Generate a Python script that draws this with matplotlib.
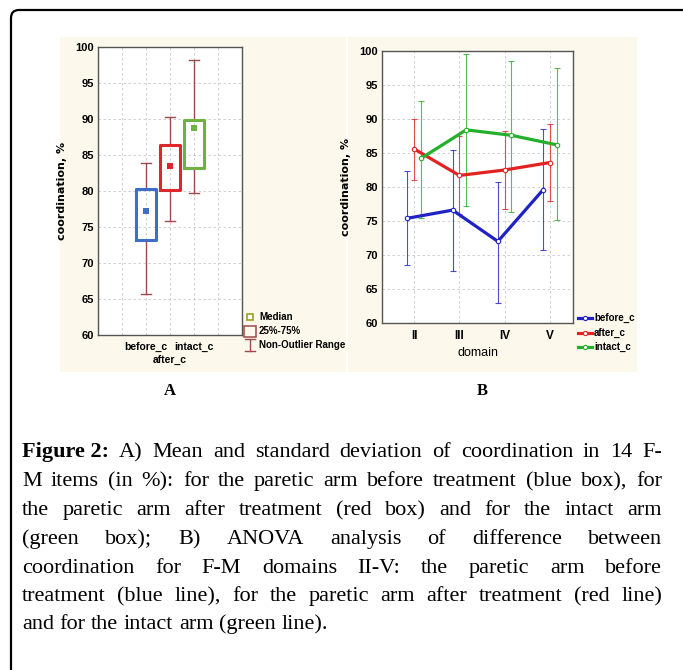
import matplotlib.pyplot as plt
from matplotlib.lines import Line2D
from matplotlib.patches import Rectangle, FancyBboxPatch

# Panel A: box summaries per arm
groups = ["before_c", "after_c", "intact_c"]
box_low = [73.2, 80.1, 83.2]
box_high = [80.3, 86.4, 89.9]
medians = [77.2, 83.5, 88.7]
whisk_low = [65.7, 75.9, 79.7]
whisk_high = [83.9, 90.3, 98.2]

# Panel B: mean +/- SD per F-M domain
domains = ["II", "III", "IV", "V"]
series = ["before_c", "after_c", "intact_c"]
means = [
    [75.4, 76.6, 72.0, 79.6],
    [85.6, 81.7, 82.5, 83.6],
    [84.2, 88.4, 87.6, 86.2],
]
upper = [
    [82.3, 85.5, 80.7, 88.6],
    [90.0, 87.5, 88.2, 89.3],
    [92.7, 99.5, 98.6, 97.5],
]
lower = [
    [68.5, 67.6, 62.9, 70.8],
    [81.1, 76.0, 76.7, 77.9],
    [75.5, 77.2, 76.3, 75.1],
]

caption_lines = [
    "A) Mean and standard deviation of coordination in 14 F-",
    "M items (in %): for the paretic arm before treatment (blue box), for",
    "the paretic arm after treatment (red box) and for the intact arm",
    "(green box); B) ANOVA analysis of difference between",
    "coordination for F-M domains II-V: the paretic arm before",
    "treatment (blue line), for the paretic arm after treatment (red line)",
    "and for the intact arm (green line).",
]

BOX_COLORS = ["#3d6fc9", "#e0262b", "#6cb43f"]
LINE_COLORS = ["#1f22c4", "#e32222", "#24b02a"]
WHISK = "#9c4a4a"
CREAM = "#fdf8ec"
GRID = "#c9c9c9"
NARROW = ["Liberation Sans Narrow", "Liberation Sans", "DejaVu Sans"]
SERIF = ["Liberation Serif", "DejaVu Serif"]

W, H = 683, 670
fig = plt.figure(figsize=(W / 100, H / 100), dpi=100)
fig.patch.set_facecolor("white")


def fx(px):
    return px / W


def fy(py):
    return 1 - py / H


def axes_rect(left, top, right, bottom):
    return [fx(left), fy(bottom), fx(right) - fx(left), fy(top) - fy(bottom)]


# outer frame with a rounded top-left corner
frame = FancyBboxPatch((0.11, -1.0), 8.0, 7.6, boxstyle="round,pad=0,rounding_size=0.08",
                       transform=fig.dpi_scale_trans, facecolor="none",
                       edgecolor="black", linewidth=1.6)
fig.add_artist(frame)

# cream panel backgrounds
for l, t, r, b in [(60, 37, 346, 372), (348, 37, 637, 372)]:
    fig.add_artist(Rectangle((fx(l), fy(b)), fx(r) - fx(l), fy(t) - fy(b),
                             transform=fig.transFigure, facecolor=CREAM,
                             edgecolor="none", zorder=0))


def style_axes(ax):
    ax.set_facecolor("white")
    for s in ax.spines.values():
        s.set_color("#555555")
        s.set_linewidth(1.0)
    ax.set_ylim(60, 100)
    ax.set_yticks(range(60, 101, 5))
    ax.grid(True, color=GRID, linewidth=0.6, linestyle=(0, (3, 3)))
    ax.set_axisbelow(True)
    ax.tick_params(axis="both", length=0, pad=3)
    for lab in ax.get_yticklabels():
        lab.set_fontfamily(NARROW)
        lab.set_fontweight("bold")
        lab.set_fontsize(8)
    ax.set_ylabel("coordination, %", fontsize=8, fontweight="bold",
                  fontfamily="DejaVu Sans", labelpad=6)


# ---- Panel A ----
axA = fig.add_axes(axes_rect(98, 47, 242, 335))
stats = [
    dict(med=m, q1=lo, q3=hi, whislo=wl, whishi=wh, mean=m, fliers=[])
    for m, lo, hi, wl, wh in zip(medians, box_low, box_high, whisk_low, whisk_high)
]
pos = [1, 2, 3]
bp = axA.bxp(stats, positions=pos, widths=0.8, capwidths=0.42, showmeans=True,
             showfliers=False,
             medianprops=dict(linestyle="none"),
             whiskerprops=dict(color=WHISK, linewidth=1.0),
             capprops=dict(color=WHISK, linewidth=1.0),
             boxprops=dict(linewidth=2.2),
             meanprops=dict(marker="s", markersize=4.5, markeredgewidth=0))
for i, c in enumerate(BOX_COLORS):
    bp["boxes"][i].set_color(c)
    bp["boxes"][i].set_zorder(3)
    bp["means"][i].set_markerfacecolor(c)
    bp["means"][i].set_zorder(4)
axA.set_xlim(-1, 5)
axA.set_xticks([0, 1, 2, 3, 4])
axA.set_xticklabels([])
style_axes(axA)
for i, g in enumerate(groups):
    axA.text(pos[i], 59.0 if i != 1 else 57.2, g, ha="center", va="top",
             fontsize=7.5, fontweight="bold", fontfamily=NARROW)

# legend for panel A
fig.add_artist(Line2D([fx(250)], [fy(317)], marker="s", markersize=4.5,
                      markerfacecolor="white", markeredgecolor="#9aa02a",
                      markeredgewidth=1.2, transform=fig.transFigure))
fig.add_artist(Rectangle((fx(244), fy(337)), fx(12), fy(326) - fy(337),
                         transform=fig.transFigure, facecolor="none",
                         edgecolor=WHISK, linewidth=1.1))
fig.add_artist(Line2D([fx(250), fx(250)], [fy(339), fy(351)], color=WHISK,
                      linewidth=1.0, transform=fig.transFigure))
for yy in (339, 351):
    fig.add_artist(Line2D([fx(245), fx(255)], [fy(yy), fy(yy)], color=WHISK,
                          linewidth=1.0, transform=fig.transFigure))
for yy, t in [(317, "Median"), (331, "25%-75%"), (345, "Non-Outlier Range")]:
    fig.text(fx(259), fy(yy), t, ha="left", va="center", fontsize=7,
             fontweight="bold", fontfamily=NARROW)

# ---- Panel B ----
axB = fig.add_axes(axes_rect(382, 51, 573, 323))
offsets = [-0.15, 0.0, 0.15]
xs = list(range(1, len(domains) + 1))
for k, name in enumerate(series):
    xk = [x + offsets[k] for x in xs]
    yerr = [[m - lo for m, lo in zip(means[k], lower[k])],
            [hi - m for m, hi in zip(means[k], upper[k])]]
    axB.errorbar(xk, means[k], yerr=yerr, fmt="none", ecolor=LINE_COLORS[k],
                 elinewidth=0.8, capsize=2.5, capthick=0.8, alpha=0.8, zorder=2)
    axB.plot(xk, means[k], color=LINE_COLORS[k], linewidth=2.3, marker="o",
             markersize=3.2, markerfacecolor="white", markeredgewidth=0.8,
             zorder=3, label=name)
axB.set_xlim(0.29, 4.51)
axB.set_xticks(xs)
axB.set_xticklabels(domains, fontsize=8.5, fontweight="bold", fontfamily=NARROW)
style_axes(axB)
axB.tick_params(axis="x", pad=5)
axB.set_xlabel("domain", fontsize=9, fontfamily=NARROW, labelpad=4)

# legend for panel B
for k, (yy, name) in enumerate(zip([318, 333, 347], series)):
    fig.add_artist(Line2D([fx(578), fx(592)], [fy(yy), fy(yy)],
                          color=LINE_COLORS[k], linewidth=2.3,
                          transform=fig.transFigure))
    fig.add_artist(Line2D([fx(585)], [fy(yy)], marker="o", markersize=3,
                          markerfacecolor="white", markeredgecolor=LINE_COLORS[k],
                          markeredgewidth=0.8, transform=fig.transFigure))
    fig.text(fx(594), fy(yy), name, ha="left", va="center", fontsize=7,
             fontweight="bold", fontfamily=NARROW)

# panel letters
fig.text(fx(170), fy(391), "A", ha="center", va="center", fontsize=12,
         fontweight="bold", fontfamily=SERIF)
fig.text(fx(482), fy(391), "B", ha="center", va="center", fontsize=12,
         fontweight="bold", fontfamily=SERIF)

# ---- justified caption ----
renderer = fig.canvas.get_renderer()
CAP_SIZE = 16
x_left, x_right = 22, 662
line_base = [457, 486, 515, 544, 573, 601, 629]


def width_px(artist):
    return artist.get_window_extent(renderer).width


probe = fig.text(0, 0, "a a", fontsize=CAP_SIZE, fontfamily=SERIF)
probe2 = fig.text(0, 0, "aa", fontsize=CAP_SIZE, fontfamily=SERIF)
space = width_px(probe) - width_px(probe2)
probe.remove()
probe2.remove()

for li, (line, yy) in enumerate(zip(caption_lines, line_base)):
    items = []
    if li == 0:
        items.append(("Figure 2:", "bold"))
    items += [(w, "normal") for w in line.split(" ")]
    arts = [fig.text(0, fy(yy), w, ha="left", va="baseline", fontsize=CAP_SIZE,
                     fontweight=weight, fontfamily=SERIF) for w, weight in items]
    widths = [width_px(a) for a in arts]
    if li == len(caption_lines) - 1:
        gap = space
    else:
        gap = (x_right - x_left - sum(widths)) / (len(arts) - 1)
    x = x_left
    for a, w in zip(arts, widths):
        a.set_x(fx(x))
        x += w + gap

fig.savefig("out.png", dpi=100)
